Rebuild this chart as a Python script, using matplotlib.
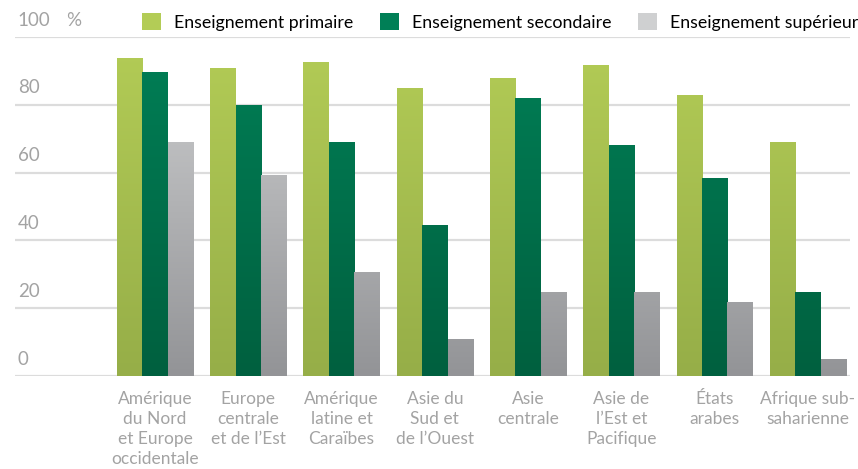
import numpy as np
import matplotlib.pyplot as plt
from matplotlib.patches import Patch

plt.rcParams['font.family'] = ['Lato', 'DejaVu Sans']

regions = ["Amérique\ndu Nord\net Europe\noccidentale", "Europe\ncentrale\net de l’Est",
           "Amérique\nlatine et\nCaraïbes", "Asie du\nSud et\nde l’Ouest", "Asie\ncentrale",
           "Asie de\nl’Est et\nPacifique", "États\narabes", "Afrique sub-\nsaharienne"]
primaire = [93.8, 90.9, 92.6, 85, 87.9, 91.7, 82.9, 69]
secondaire = [89.7, 80, 69, 44.5, 82, 68.1, 58.4, 24.8]
superieur = [69, 59.3, 30.7, 10.9, 24.8, 24.8, 21.8, 5]
series_names = ["Enseignement primaire", "Enseignement secondaire", "Enseignement supérieur"]
yticks = [0, 20, 40, 60, 80, 100]

# top / bottom colours of the vertical gradient
grads = [("#b3cc56", "#96ae48"), ("#007f56", "#00603f"), ("#cfd0d1", "#939497")]

fig = plt.figure(figsize=(8.58, 4.69), dpi=100)
ax = fig.add_axes([15/858, 1 - 376/469, 835/858, 339/469])

x = np.arange(len(regions))
w = 0.273
for i, vals in enumerate([primaire, secondaire, superieur]):
    top, bot = grads[i]
    c1 = np.array(plt.matplotlib.colors.to_rgb(top))
    c2 = np.array(plt.matplotlib.colors.to_rgb(bot))
    grad = np.linspace(0, 1, 100)[:, None, None] * (c2 - c1) + c1
    bars = ax.bar(x + (i - 1) * w, vals, w, color=top, linewidth=0, zorder=2)
    for b in bars:
        x0 = b.get_x()
        im = ax.imshow(grad, extent=[x0, x0 + b.get_width(), 0, 100], origin='upper',
                       aspect='auto', zorder=2.5, interpolation='bicubic')
        im.set_clip_path(b)

ax.set_xlim(-1.5, 7.45)
ax.set_ylim(0, 100)
for y in yticks:
    ax.axhline(y, color="#dcdcdc", lw=1.6, zorder=1)
    ax.text(-1.47, y + 2.5, str(y), color="#a3a3a3", fontsize=13.5, va='bottom', ha='left')
ax.text(-0.95, 100 + 2.5, "%", color="#a3a3a3", fontsize=13.5, va='bottom', ha='left')

for xi, lab in zip(x, regions):
    ax.text(xi, -4.5, lab, color="#a3a3a3", fontsize=12.5, ha='center', va='top',
            linespacing=1.3)

ax.axis('off')

handles = [Patch(facecolor=g[0], edgecolor='none') for g in grads]
fig.legend(handles, series_names, loc='center left', bbox_to_anchor=(142/858, 1 - 22/469),
           ncol=3, frameon=False, fontsize=12.8, handlelength=1.05, handleheight=1.1,
           handletextpad=0.75, columnspacing=1.5, borderaxespad=0, borderpad=0)

fig.savefig("out.png", dpi=100)
